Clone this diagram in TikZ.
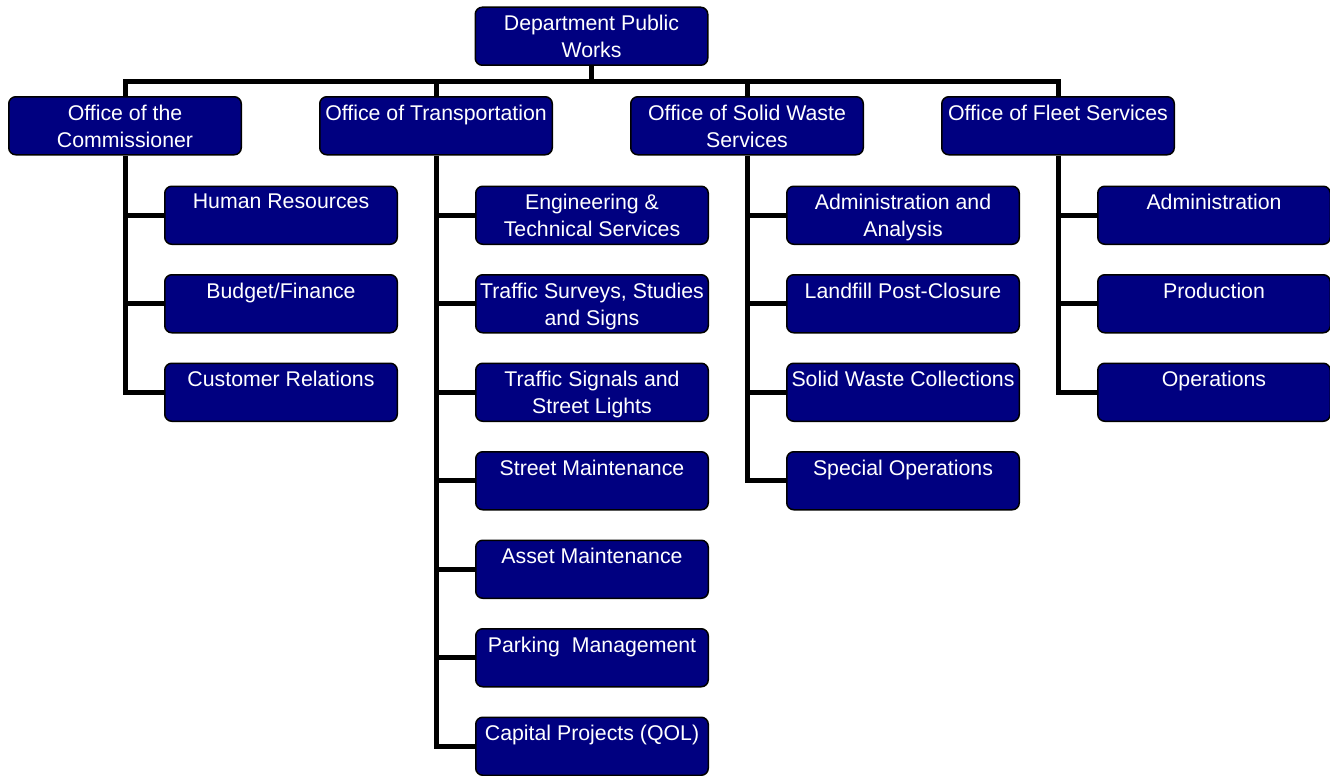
\documentclass[tikz,border=0pt]{standalone}
\usepackage{fontspec}
\setmainfont{Liberation Sans}
\usetikzlibrary{positioning,calc,backgrounds}
\definecolor{navy}{HTML}{000080}
\tikzset{
  box/.style={draw=black, line width=1.5pt, fill=navy, rounded corners=7pt,
    minimum width=232.5pt, minimum height=58pt, inner sep=0pt},
  lbl/.style={anchor=north, yshift=-8.6pt, text=white, align=center, inner sep=0pt,
    font=\fontsize{21.3}{27}\selectfont},
  unit/.style={box, label={[lbl]north:#1}},
  conn/.style={draw=black, line width=5pt}
}

\begin{document}
\begin{tikzpicture}
  \useasboundingbox (0,0) rectangle (1330pt,-776pt);
  % offices
  \node[unit={Office of the\\Commissioner}] (o1) at (125pt,-125.75pt) {};
  \node[unit={Office of Transportation}, right=77pt of o1] (o2) {};
  \node[unit={Office of Solid Waste\\Services}, right=77pt of o2] (o3) {};
  \node[unit={Office of Fleet Services}, right=77pt of o3] (o4) {};
  \coordinate (mid) at ($(o2.north)!.5!(o3.north)$);
  \node[unit={Department Public\\Works}, above=30pt of mid] (dpw) {};

  % commissioner
  \node[unit={Human Resources}, below right=30pt and 39pt of o1.south] (c11) {};
  \node[unit={Budget/Finance}, below=29pt of c11] (c12) {};
  \node[unit={Customer Relations}, below=29pt of c12] (c13) {};

  % transportation
  \node[unit={Engineering \&\\Technical Services}, below right=30pt and 39pt of o2.south] (c21) {};
  \node[unit={Traffic Surveys, Studies\\and Signs}, below=29pt of c21] (c22) {};
  \node[unit={Traffic Signals and\\Street Lights}, below=29pt of c22] (c23) {};
  \node[unit={Street Maintenance}, below=29pt of c23] (c24) {};
  \node[unit={Asset Maintenance}, below=29pt of c24] (c25) {};
  \node[unit={Parking\ \ Management}, below=29pt of c25] (c26) {};
  \node[unit={Capital Projects (QOL)}, below=29pt of c26] (c27) {};

  % solid waste
  \node[unit={Administration and\\Analysis}, below right=30pt and 39pt of o3.south] (c31) {};
  \node[unit={Landfill Post-Closure}, below=29pt of c31] (c32) {};
  \node[unit={Solid Waste Collections}, below=29pt of c32] (c33) {};
  \node[unit={Special Operations}, below=29pt of c33] (c34) {};

  % fleet
  \node[unit={Administration}, below right=30pt and 39pt of o4.south] (c41) {};
  \node[unit={Production}, below=29pt of c41] (c42) {};
  \node[unit={Operations}, below=29pt of c42] (c43) {};

  \begin{scope}[on background layer]
    \coordinate (bus) at ($(dpw.south)+(0,-15pt)$);
    \draw[conn] (dpw.south) -- (bus);
    \draw[conn] (o1.north) |- (bus) -| (o4.north);
    \draw[conn] (o2.north) -- (o2.north |- bus);
    \draw[conn] (o3.north) -- (o3.north |- bus);
    % branches
    \draw[conn] (o1.south) |- (c13.west) (o1.south |- c11.west) -- (c11.west)
      (o1.south |- c12.west) -- (c12.west);
    \draw[conn] (o2.south) |- (c27.west) (o2.south |- c21.west) -- (c21.west)
      (o2.south |- c22.west) -- (c22.west) (o2.south |- c23.west) -- (c23.west)
      (o2.south |- c24.west) -- (c24.west) (o2.south |- c25.west) -- (c25.west)
      (o2.south |- c26.west) -- (c26.west);
    \draw[conn] (o3.south) |- (c34.west) (o3.south |- c31.west) -- (c31.west)
      (o3.south |- c32.west) -- (c32.west) (o3.south |- c33.west) -- (c33.west);
    \draw[conn] (o4.south) |- (c43.west) (o4.south |- c41.west) -- (c41.west)
      (o4.south |- c42.west) -- (c42.west);
  \end{scope}
\end{tikzpicture}
\end{document}
